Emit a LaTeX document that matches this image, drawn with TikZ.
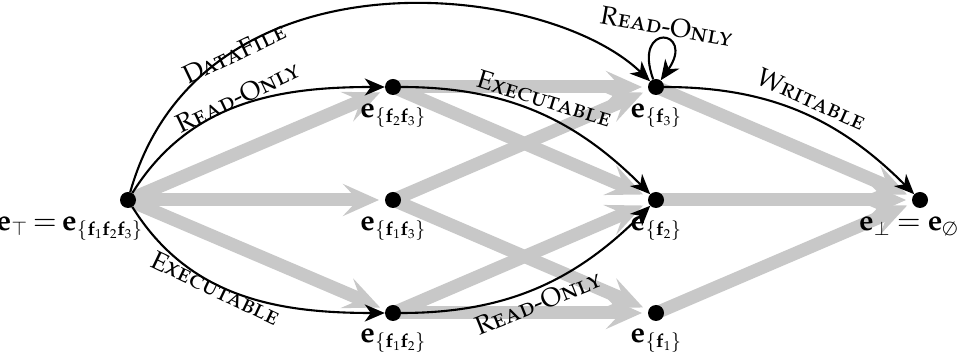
\documentclass[tikz,border=0pt]{standalone}
\usepackage[T1]{fontenc}
\usepackage[sc]{mathpazo}
\usetikzlibrary{arrows.meta,backgrounds}
\DeclareMathSizes{29}{29}{19}{13}
\definecolor{lightgrey}{RGB}{200,200,200}
\tikzset{
  dot/.style={circle, fill=black, minimum size=16pt, inner sep=0pt},
  lbl/.style={font=\fontsize{26}{30}\selectfont, inner sep=0pt, anchor=base},
  nlbl/.style={font=\fontsize{29}{33}\selectfont, inner sep=0pt, anchor=base},
  greyarrow/.style={draw=lightgrey, line width=13pt, -{Stealth[length=36pt,width=32pt,inset=15pt]}, shorten >=14pt},
  blk/.style={draw, line width=2.1pt, -{Stealth[length=20pt,width=17pt,inset=6pt]}}
}
\begin{document}
\begin{tikzpicture}[x=1pt,y=1pt]
\useasboundingbox (0,0) rectangle (960,352);
% dots
\node[dot] (top)  at (128,152) {};
\node[dot] (f2f3) at (393,265) {};
\node[dot] (f1f3) at (393,152) {};
\node[dot] (f1f2) at (393,39) {};
\node[dot] (f3)   at (656,265) {};
\node[dot] (f2)   at (656,152) {};
\node[dot] (f1)   at (656,39) {};
\node[dot] (bot)  at (920,152) {};
% node labels
\node[nlbl, anchor=base east] (ltop) at (143,121) {$\mathbf{e}_\top\mkern-2mu=\mkern-2mu\mathbf{e}_{\{\mathbf{f}_1\mathbf{f}_2\mathbf{f}_3\}}$};
\node[nlbl] (lf2f3) at (393,234) {$\mathbf{e}_{\{\mathbf{f}_2\mathbf{f}_3\}}$};
\node[nlbl] (lf1f3) at (393,121) {$\mathbf{e}_{\{\mathbf{f}_1\mathbf{f}_3\}}$};
\node[nlbl] (lf1f2) at (393,9) {$\mathbf{e}_{\{\mathbf{f}_1\mathbf{f}_2\}}$};
\node[nlbl] (lf3) at (656,234) {$\mathbf{e}_{\{\mathbf{f}_3\}}$};
\node[nlbl] (lf2) at (656,121) {$\mathbf{e}_{\{\mathbf{f}_2\}}$};
\node[nlbl] (lf1) at (656,9) {$\mathbf{e}_{\{\mathbf{f}_1\}}$};
\node[nlbl, anchor=base east] (lbot) at (958,121) {$\mathbf{e}_\bot\mkern-1mu=\mkern-1mu\mathbf{e}_\emptyset$};
% grey lattice arrows
\begin{pgfonlayer}{background}
\draw[greyarrow] (top.center) -- (f2f3.center);
\draw[greyarrow] (top.center) -- (f1f3.center);
\draw[greyarrow] (top.center) -- (f1f2.center);
\draw[greyarrow] (f2f3.center) -- (f3.center);
\draw[greyarrow] (f2f3.center) -- (f2.center);
\draw[greyarrow] (f1f3.center) -- (f3.center);
\draw[greyarrow] (f1f3.center) -- (f1.center);
\draw[greyarrow] (f1f2.center) -- (f2.center);
\draw[greyarrow] (f1f2.center) -- (f1.center);
\draw[greyarrow] (f3.center) -- (bot.center);
\draw[greyarrow] (f2.center) -- (bot.center);
\draw[greyarrow] (f1.center) -- (bot.center);
\end{pgfonlayer}
% black transitions
\draw[blk] (top) .. controls (200,407) and (545,372) .. (f3);
\draw[blk] (top) to[out=58,in=180] (f2f3);
\draw[blk] (top) to[out=-58,in=180] (f1f2);
\draw[blk] (f2f3) to[out=0,in=135] (f2);
\draw[blk] (f1f2) to[out=0,in=-135] (f2);
\draw[blk] (f3) to[out=0,in=135] (bot);
\draw[blk] (f3) to[out=110,in=55,min distance=62pt] (f3);
% transition labels
\node[lbl, rotate=25.5] (tdata) at (238,291) {\textsc{DataFile}};
\node[lbl, rotate=25.5] (tro1) at (241,247) {\textsc{Read-Only}};
\node[lbl, rotate=-17] (tex1) at (542,245) {\textsc{Executable}};
\node[lbl, rotate=-25.5] (tex2) at (212,56) {\textsc{Executable}};
\node[lbl, rotate=22] (tro2) at (541,41) {\textsc{Read-Only}};
\node[lbl, rotate=-24] (twr) at (808,245) {\textsc{Writable}};
\node[lbl, rotate=-10] (tro3) at (665,317) {\textsc{Read-Only}};
\end{tikzpicture}
\end{document}
